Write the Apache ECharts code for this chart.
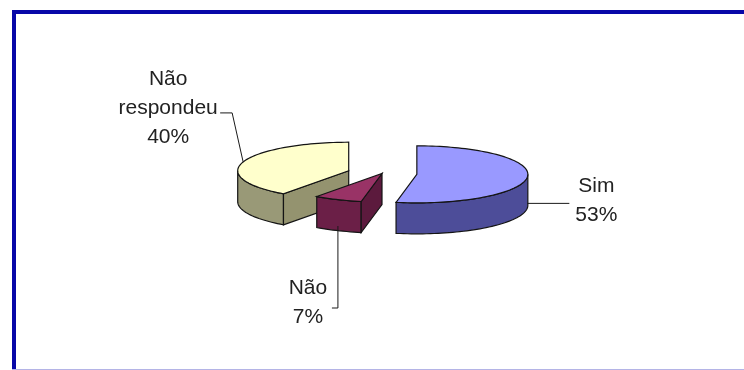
<!DOCTYPE html>
<html>
<head>
<meta charset="utf-8">
<script src="https://cdn.jsdelivr.net/npm/echarts@6/dist/echarts.min.js"></script>
<style>
  html, body { margin: 0; padding: 0; background: #ffffff; }
  #chart { width: 744px; height: 370px; }
</style>
</head>
<body>
<div id="chart"></div>
<script>
// Survey answers, slices run clockwise from 12 o'clock
const categories = ['Sim', 'Não', 'Não respondeu'];
const values = [53, 7, 40];
const labelNames = ['Sim', 'Não', 'Não\nrespondeu'];

// Slice colours: top face, outer wall, cut face
const topColors = ['#9999ff', '#993366', '#ffffcc'];
const wallColors = ['#4d4d99', '#6b1f47', '#999977'];
const cutColors = ['#45458c', '#5c1a3d', '#94936f'];
const explode = [35, 0, 35];

// Leader lines: segments relative to the slice anchor, then text offset from the last point
const leaders = [
  { path: [[42, 0]], text: [27, -3] },
  { path: [[0, 82], [-6, 0]], text: [-24, -5] },
  { path: [[-11, -49], [-12, 0]], text: [-52, -5] }
];

// Pie layout: centre, ellipse radii and wall depth in pixels
const CX = 382, CY = 173.5, RX = 111, RY = 28.5, DEPTH = 31;

const total = values.reduce((a, b) => a + b, 0);
const starts = [];
values.reduce((acc, v, i) => { starts[i] = acc; return acc + v; }, 0);

const rad = d => d * Math.PI / 180;

function renderSlice(params, api) {
  const i = params.dataIndex;
  const v = api.value(0);
  const a0 = starts[i] / total * 360;
  const a1 = a0 + v / total * 360;
  const m = (a0 + a1) / 2;
  const cx = CX + explode[i] * Math.sin(rad(m));
  const cy = CY - explode[i] * (RY / RX) * Math.cos(rad(m));
  const rim = (a, dy) => [cx + RX * Math.sin(rad(a)), cy - RY * Math.cos(rad(a)) + (dy || 0)];
  const arc = (lo, hi, dy) => {
    const pts = [];
    const n = Math.max(2, Math.ceil((hi - lo) / 2));
    for (let k = 0; k <= n; k++) pts.push(rim(lo + (hi - lo) * k / n, dy));
    return pts;
  };
  const stroke = '#141414';
  const lw = 1.2;
  const base = Math.round(-Math.cos(rad(m)) * 10 + 20) * 10;
  const children = [];

  // Outer wall, only the part on the near half of the pie
  const lo = Math.max(a0, 90), hi = Math.min(a1, 270);
  if (hi > lo) {
    const pts = arc(lo, hi, 0).concat(arc(lo, hi, DEPTH).reverse());
    children.push({ type: 'polygon', z2: base + 1, shape: { points: pts },
      style: { fill: wallColors[i], stroke: stroke, lineWidth: lw } });
  }
  // Cut faces at the slice edges that face the viewer
  const cutFace = a => {
    const p = rim(a, 0);
    return [[cx, cy], p, [p[0], p[1] + DEPTH], [cx, cy + DEPTH]];
  };
  if (Math.cos(rad(a0 - 90)) < -1e-6) {
    children.push({ type: 'polygon', z2: base + 1, shape: { points: cutFace(a0) },
      style: { fill: cutColors[i], stroke: stroke, lineWidth: lw } });
  }
  if (Math.cos(rad(a1 + 90)) < -1e-6) {
    children.push({ type: 'polygon', z2: base + 1, shape: { points: cutFace(a1) },
      style: { fill: cutColors[i], stroke: stroke, lineWidth: lw } });
  }
  // Top face
  children.push({ type: 'polygon', z2: base + 2,
    shape: { points: [[cx, cy]].concat(arc(a0, a1, 0)) },
    style: { fill: topColors[i], stroke: stroke, lineWidth: lw } });

  // Leader line and label
  const front = -Math.cos(rad(m)) > 0;
  let p = rim(m, front ? DEPTH * 0.85 : 0);
  const line = [p];
  leaders[i].path.forEach(d => { p = [p[0] + d[0], p[1] + d[1]]; line.push(p); });
  children.push({ type: 'polyline', z2: 900, shape: { points: line },
    style: { stroke: '#1a1a1a', lineWidth: 1, fill: null } });
  const pct = Math.round(v / total * 100) + '%';
  children.push({ type: 'text', z2: 1000,
    x: p[0] + leaders[i].text[0], y: p[1] + leaders[i].text[1],
    style: { text: labelNames[i] + '\n' + pct, fill: '#222222',
      fontSize: 21, fontFamily: '"Liberation Sans", Arial, sans-serif',
      align: 'center', verticalAlign: 'middle', lineHeight: 29 } });

  return { type: 'group', children: children };
}

const chart = echarts.init(document.getElementById('chart'), null, { renderer: 'canvas' });
chart.setOption({
  backgroundColor: '#ffffff',
  animation: false,
  graphic: [
    { type: 'line', shape: { x1: 14, y1: 10, x2: 14, y2: 370 }, style: { stroke: '#0707a8', lineWidth: 4 } },
    { type: 'line', shape: { x1: 12, y1: 12, x2: 744, y2: 12 }, style: { stroke: '#0707a8', lineWidth: 4 } },
    { type: 'line', shape: { x1: 12, y1: 369.5, x2: 744, y2: 369.5 }, style: { stroke: '#b4b4e6', lineWidth: 1 } }
  ],
  series: [{
    type: 'custom',
    coordinateSystem: 'none',
    renderItem: renderSlice,
    data: values.map((v, i) => ({ name: categories[i], value: [v] }))
  }]
});
</script>
</body>
</html>
